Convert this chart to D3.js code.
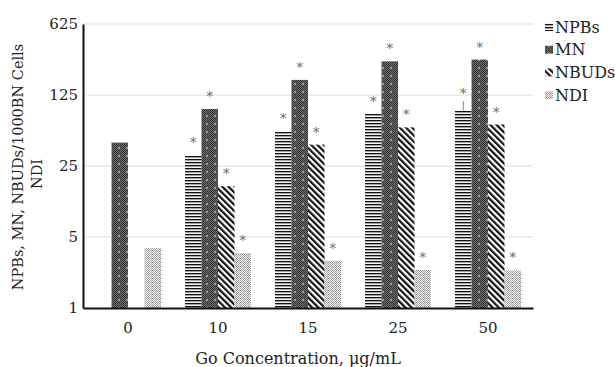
<!DOCTYPE html>
<html>
<head>
<meta charset="utf-8">
<script src="https://cdnjs.cloudflare.com/ajax/libs/d3/7.8.5/d3.min.js"></script>
<style>
  body { margin: 0; background: #fff; }
  text { font-family: "DejaVu Serif", serif; }
</style>
</head>
<body>
<div id="chart"></div>
<script>
// values (log base 5 axis)
var categories = ["0", "10", "15", "25", "50"];
var seriesNames = ["NPBs", "MN", "NBUDs", "NDI"];
var npbs = [null, 31.8, 55, 82, 88];
var mn = [42.5, 91, 176, 268, 279];
var nbuds = [null, 15.8, 40.6, 60, 64];
var ndi = [3.9, 3.47, 2.92, 2.37, 2.34];
var npbsErr = [0, 0, 0, 0, 21];
var significant = [false, true, true, true, true];
var yTicks = [1, 5, 25, 125, 625];

var svgWidth = 615;
var svgHeight = 367;
var margin = { top: 24, right: 82, bottom: 59, left: 83 };
var width = svgWidth - margin.left - margin.right;
var height = svgHeight - margin.top - margin.bottom;

var svg = d3.select("#chart")
  .append("svg")
  .attr("width", svgWidth)
  .attr("height", svgHeight);

// ---- fill patterns ----
var defs = svg.append("defs");

// NPBs: horizontal stripes
var pNpbs = defs.append("pattern")
  .attr("id", "pat-npbs")
  .attr("patternUnits", "userSpaceOnUse")
  .attr("width", 4).attr("height", 3);
pNpbs.append("rect").attr("width", 4).attr("height", 3).attr("fill", "#fff");
pNpbs.append("rect").attr("y", 0).attr("width", 4).attr("height", 1.2).attr("fill", "#111");
pNpbs.append("rect").attr("y", 1.2).attr("width", 4).attr("height", 0.9).attr("fill", "#9a9a9a");

// MN: dark checker with light spots
var pMn = defs.append("pattern")
  .attr("id", "pat-mn")
  .attr("patternUnits", "userSpaceOnUse")
  .attr("width", 8).attr("height", 8);
for (var i = 0; i < 8; i++) {
  for (var j = 0; j < 8; j++) {
    var c = (i + j) % 2 ? "#333" : "#6e6e6e";
    if ((i == 3 || i == 4) && (j == 3 || j == 4)) c = "#9c9c9c";
    pMn.append("rect").attr("x", i).attr("y", j).attr("width", 1).attr("height", 1).attr("fill", c);
  }
}

// NBUDs: diagonal "\" stripes
var pNb = defs.append("pattern")
  .attr("id", "pat-nbuds")
  .attr("patternUnits", "userSpaceOnUse")
  .attr("width", 4.4).attr("height", 10)
  .attr("patternTransform", "rotate(-45)");
pNb.append("rect").attr("width", 4.4).attr("height", 10).attr("fill", "#fff");
pNb.append("rect").attr("width", 2.2).attr("height", 10).attr("fill", "#111");

// NDI: light grey fine checker
var pNdi = defs.append("pattern")
  .attr("id", "pat-ndi")
  .attr("patternUnits", "userSpaceOnUse")
  .attr("width", 4).attr("height", 4);
for (var i = 0; i < 4; i++) {
  for (var j = 0; j < 4; j++) {
    var c = (i + j) % 2 ? "#a8a8a8" : "#eeeeee";
    if (i == 1 && j == 2) c = "#777";
    pNdi.append("rect").attr("x", i).attr("y", j).attr("width", 1).attr("height", 1).attr("fill", c);
  }
}

var fills = ["url(#pat-npbs)", "url(#pat-mn)", "url(#pat-nbuds)", "url(#pat-ndi)"];

var chartGroup = svg.append("g")
  .attr("transform", `translate(${margin.left}, ${margin.top})`);

// scales
var x0 = d3.scaleBand().domain(categories).range([0, width]);
var x1 = d3.scaleBand().domain(seriesNames).range([12, x0.bandwidth() - 12]);
var y = d3.scaleLog().base(5).domain([1, 625]).range([height, 0]);

// gridlines
chartGroup.selectAll(".grid")
  .data(yTicks.slice(1))
  .enter()
  .append("line")
  .attr("x1", 0)
  .attr("x2", width)
  .attr("y1", d => y(d))
  .attr("y2", d => y(d))
  .attr("stroke", "#dcdcdc")
  .attr("stroke-width", 1);

// build rows for the bars
var seriesValues = [npbs, mn, nbuds, ndi];
var rows = [];
categories.forEach(function(cat, ci) {
  seriesNames.forEach(function(s, si) {
    var v = seriesValues[si][ci];
    if (v != null) {
      rows.push({ cat: cat, series: s, si: si, value: v, err: si == 0 ? npbsErr[ci] : 0, sig: significant[ci] });
    }
  });
});

chartGroup.selectAll(".bar")
  .data(rows)
  .enter()
  .append("rect")
  .attr("class", "bar")
  .attr("x", d => x0(d.cat) + x1(d.series))
  .attr("y", d => y(d.value))
  .attr("width", x1.bandwidth())
  .attr("height", d => height - y(d.value))
  .attr("fill", d => fills[d.si]);

// error bars (only the visible one)
chartGroup.selectAll(".err")
  .data(rows.filter(d => d.err > 0))
  .enter()
  .append("line")
  .attr("x1", d => x0(d.cat) + x1(d.series) + x1.bandwidth() / 2)
  .attr("x2", d => x0(d.cat) + x1(d.series) + x1.bandwidth() / 2)
  .attr("y1", d => y(d.value))
  .attr("y2", d => y(d.value + d.err))
  .attr("stroke", "#888")
  .attr("stroke-width", 1);

// significance stars
chartGroup.selectAll(".star")
  .data(rows.filter(d => d.sig))
  .enter()
  .append("text")
  .attr("x", d => x0(d.cat) + x1(d.series) + x1.bandwidth() / 2)
  .attr("y", d => y(d.value + d.err) + (d.err > 0 ? -3 : -8))
  .attr("text-anchor", "middle")
  .attr("font-size", "13px")
  .attr("fill", "#666")
  .text("*");

// axes
var leftAxis = d3.axisLeft(y)
  .tickValues(yTicks)
  .tickFormat(d3.format("d"))
  .tickSize(0)
  .tickPadding(5);
var bottomAxis = d3.axisBottom(x0)
  .tickSize(0)
  .tickPadding(14);

var yAxis = chartGroup.append("g").call(leftAxis);
yAxis.select(".domain").attr("stroke", "#111").attr("stroke-width", 2);
yAxis.selectAll("text").attr("font-size", "15px").attr("fill", "#222")
  .style("font-family", "DejaVu Serif");

var xAxis = chartGroup.append("g")
  .attr("transform", `translate(0, ${height})`)
  .call(bottomAxis);
xAxis.select(".domain").attr("stroke", "#111").attr("stroke-width", 2);
xAxis.selectAll("text").attr("font-size", "15px").attr("fill", "#222")
  .style("font-family", "DejaVu Serif");

// axis titles
svg.append("text")
  .attr("transform", "translate(23, 167) rotate(-90)")
  .attr("text-anchor", "middle")
  .attr("font-size", "14.5px")
  .attr("fill", "#222")
  .text("NPBs, MN, NBUDs/1000BN Cells");
svg.append("text")
  .attr("transform", "translate(42, 174) rotate(-90)")
  .attr("text-anchor", "middle")
  .attr("font-size", "14.5px")
  .attr("fill", "#222")
  .text("NDI");
svg.append("text")
  .attr("x", 298)
  .attr("y", 364)
  .attr("text-anchor", "middle")
  .attr("font-size", "16px")
  .attr("fill", "#222")
  .text("Go Concentration, μg/mL");

// legend
var legend = svg.append("g").attr("transform", "translate(545, 27)");
seriesNames.forEach(function(s, i) {
  var g = legend.append("g").attr("transform", `translate(0, ${i * 22.7})`);
  g.append("rect")
    .attr("x", 0).attr("y", -4)
    .attr("width", 8).attr("height", 8)
    .attr("fill", fills[i]);
  g.append("text")
    .attr("x", 10)
    .attr("y", 5.5)
    .attr("font-size", "16px")
    .attr("fill", "#222")
    .text(s);
});
</script>
</body>
</html>
